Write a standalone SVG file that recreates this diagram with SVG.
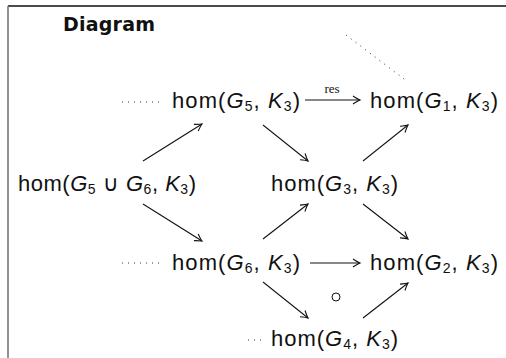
<svg xmlns="http://www.w3.org/2000/svg" width="506" height="358" viewBox="0 0 506 358">
<style>
.t{font-family:"Liberation Sans","DejaVu Sans",sans-serif;font-size:22px;fill:#111}
.i{font-style:italic}
.s{font-size:14px}
.ttl{font-family:"DejaVu Sans","Liberation Sans",sans-serif;font-size:19px;font-weight:bold;fill:#111}
.a{stroke:#111;stroke-width:1.1;fill:none;marker-end:url(#ah)}
.dot{stroke:#333;stroke-width:1;fill:none;stroke-dasharray:1 5}
</style>
<defs>
<marker id="ah" markerWidth="12" markerHeight="12" refX="0" refY="0" viewBox="-8 -6 10 12" orient="auto" markerUnits="userSpaceOnUse">
<path d="M-7,-4 Q-2,-0.8 0,0 Q-2,0.8 -7,4" stroke="#111" stroke-width="1.1" fill="none"/>
</marker>
</defs>
<rect width="506" height="358" fill="#fff"/>
<g id="frame">
<line x1="8" y1="6" x2="506" y2="6" stroke="#111" stroke-width="1.6"/>
<line x1="8" y1="6" x2="8" y2="358" stroke="#777" stroke-width="1.6"/>
<text class="ttl" x="63" y="31" textLength="92">Diagram</text>
</g>
<g id="connectors">
<line class="a" x1="305" y1="100" x2="360" y2="100"/>
<text x="332" y="93" font-family="Liberation Serif,serif" font-size="13" text-anchor="middle" fill="#111">res</text>
<line class="dot" x1="346" y1="35" x2="408" y2="82" stroke-dasharray="1 4"/>
<line class="dot" x1="122" y1="102" x2="160" y2="102"/>
<line class="dot" x1="122" y1="263" x2="160" y2="263"/>
<line class="dot" x1="248" y1="340" x2="262" y2="340"/>
<line class="a" x1="143" y1="161" x2="202" y2="124"/>
<line class="a" x1="143" y1="204" x2="202" y2="241"/>
<line class="a" x1="263" y1="125" x2="308" y2="161"/>
<line class="a" x1="263" y1="239" x2="308" y2="204"/>
<line class="a" x1="363" y1="161" x2="408" y2="125"/>
<line class="a" x1="363" y1="204" x2="408" y2="239"/>
<line class="a" x1="310" y1="263" x2="360" y2="263"/>
<line class="a" x1="263" y1="282" x2="308" y2="318"/>
<line class="a" x1="363" y1="318" x2="408" y2="283"/>
<circle cx="336" cy="297" r="4" stroke="#111" stroke-width="1" fill="none"/>
</g>
<g id="n5">
<text class="t" x="172" y="108" textLength="128">hom(<tspan class="i">G</tspan><tspan class="s" dy="3">5</tspan><tspan dy="-3">, </tspan><tspan class="i">K</tspan><tspan class="s" dy="3">3</tspan><tspan dy="-3">)</tspan></text>
</g>
<g id="n1">
<text class="t" x="370" y="108" textLength="128">hom(<tspan class="i">G</tspan><tspan class="s" dy="3">1</tspan><tspan dy="-3">, </tspan><tspan class="i">K</tspan><tspan class="s" dy="3">3</tspan><tspan dy="-3">)</tspan></text>
</g>
<g id="n56">
<text class="t" x="18" y="191" textLength="178">hom(<tspan class="i">G</tspan><tspan class="s" dy="3">5</tspan><tspan dy="-3"> ∪ </tspan><tspan class="i">G</tspan><tspan class="s" dy="3">6</tspan><tspan dy="-3">, </tspan><tspan class="i">K</tspan><tspan class="s" dy="3">3</tspan><tspan dy="-3">)</tspan></text>
</g>
<g id="n3">
<text class="t" x="271" y="191" textLength="127">hom(<tspan class="i">G</tspan><tspan class="s" dy="3">3</tspan><tspan dy="-3">, </tspan><tspan class="i">K</tspan><tspan class="s" dy="3">3</tspan><tspan dy="-3">)</tspan></text>
</g>
<g id="n6">
<text class="t" x="172" y="270" textLength="128">hom(<tspan class="i">G</tspan><tspan class="s" dy="3">6</tspan><tspan dy="-3">, </tspan><tspan class="i">K</tspan><tspan class="s" dy="3">3</tspan><tspan dy="-3">)</tspan></text>
</g>
<g id="n2">
<text class="t" x="370" y="270" textLength="128">hom(<tspan class="i">G</tspan><tspan class="s" dy="3">2</tspan><tspan dy="-3">, </tspan><tspan class="i">K</tspan><tspan class="s" dy="3">3</tspan><tspan dy="-3">)</tspan></text>
</g>
<g id="n4">
<text class="t" x="271" y="346" textLength="127">hom(<tspan class="i">G</tspan><tspan class="s" dy="3">4</tspan><tspan dy="-3">, </tspan><tspan class="i">K</tspan><tspan class="s" dy="3">3</tspan><tspan dy="-3">)</tspan></text>
</g>
</svg>
